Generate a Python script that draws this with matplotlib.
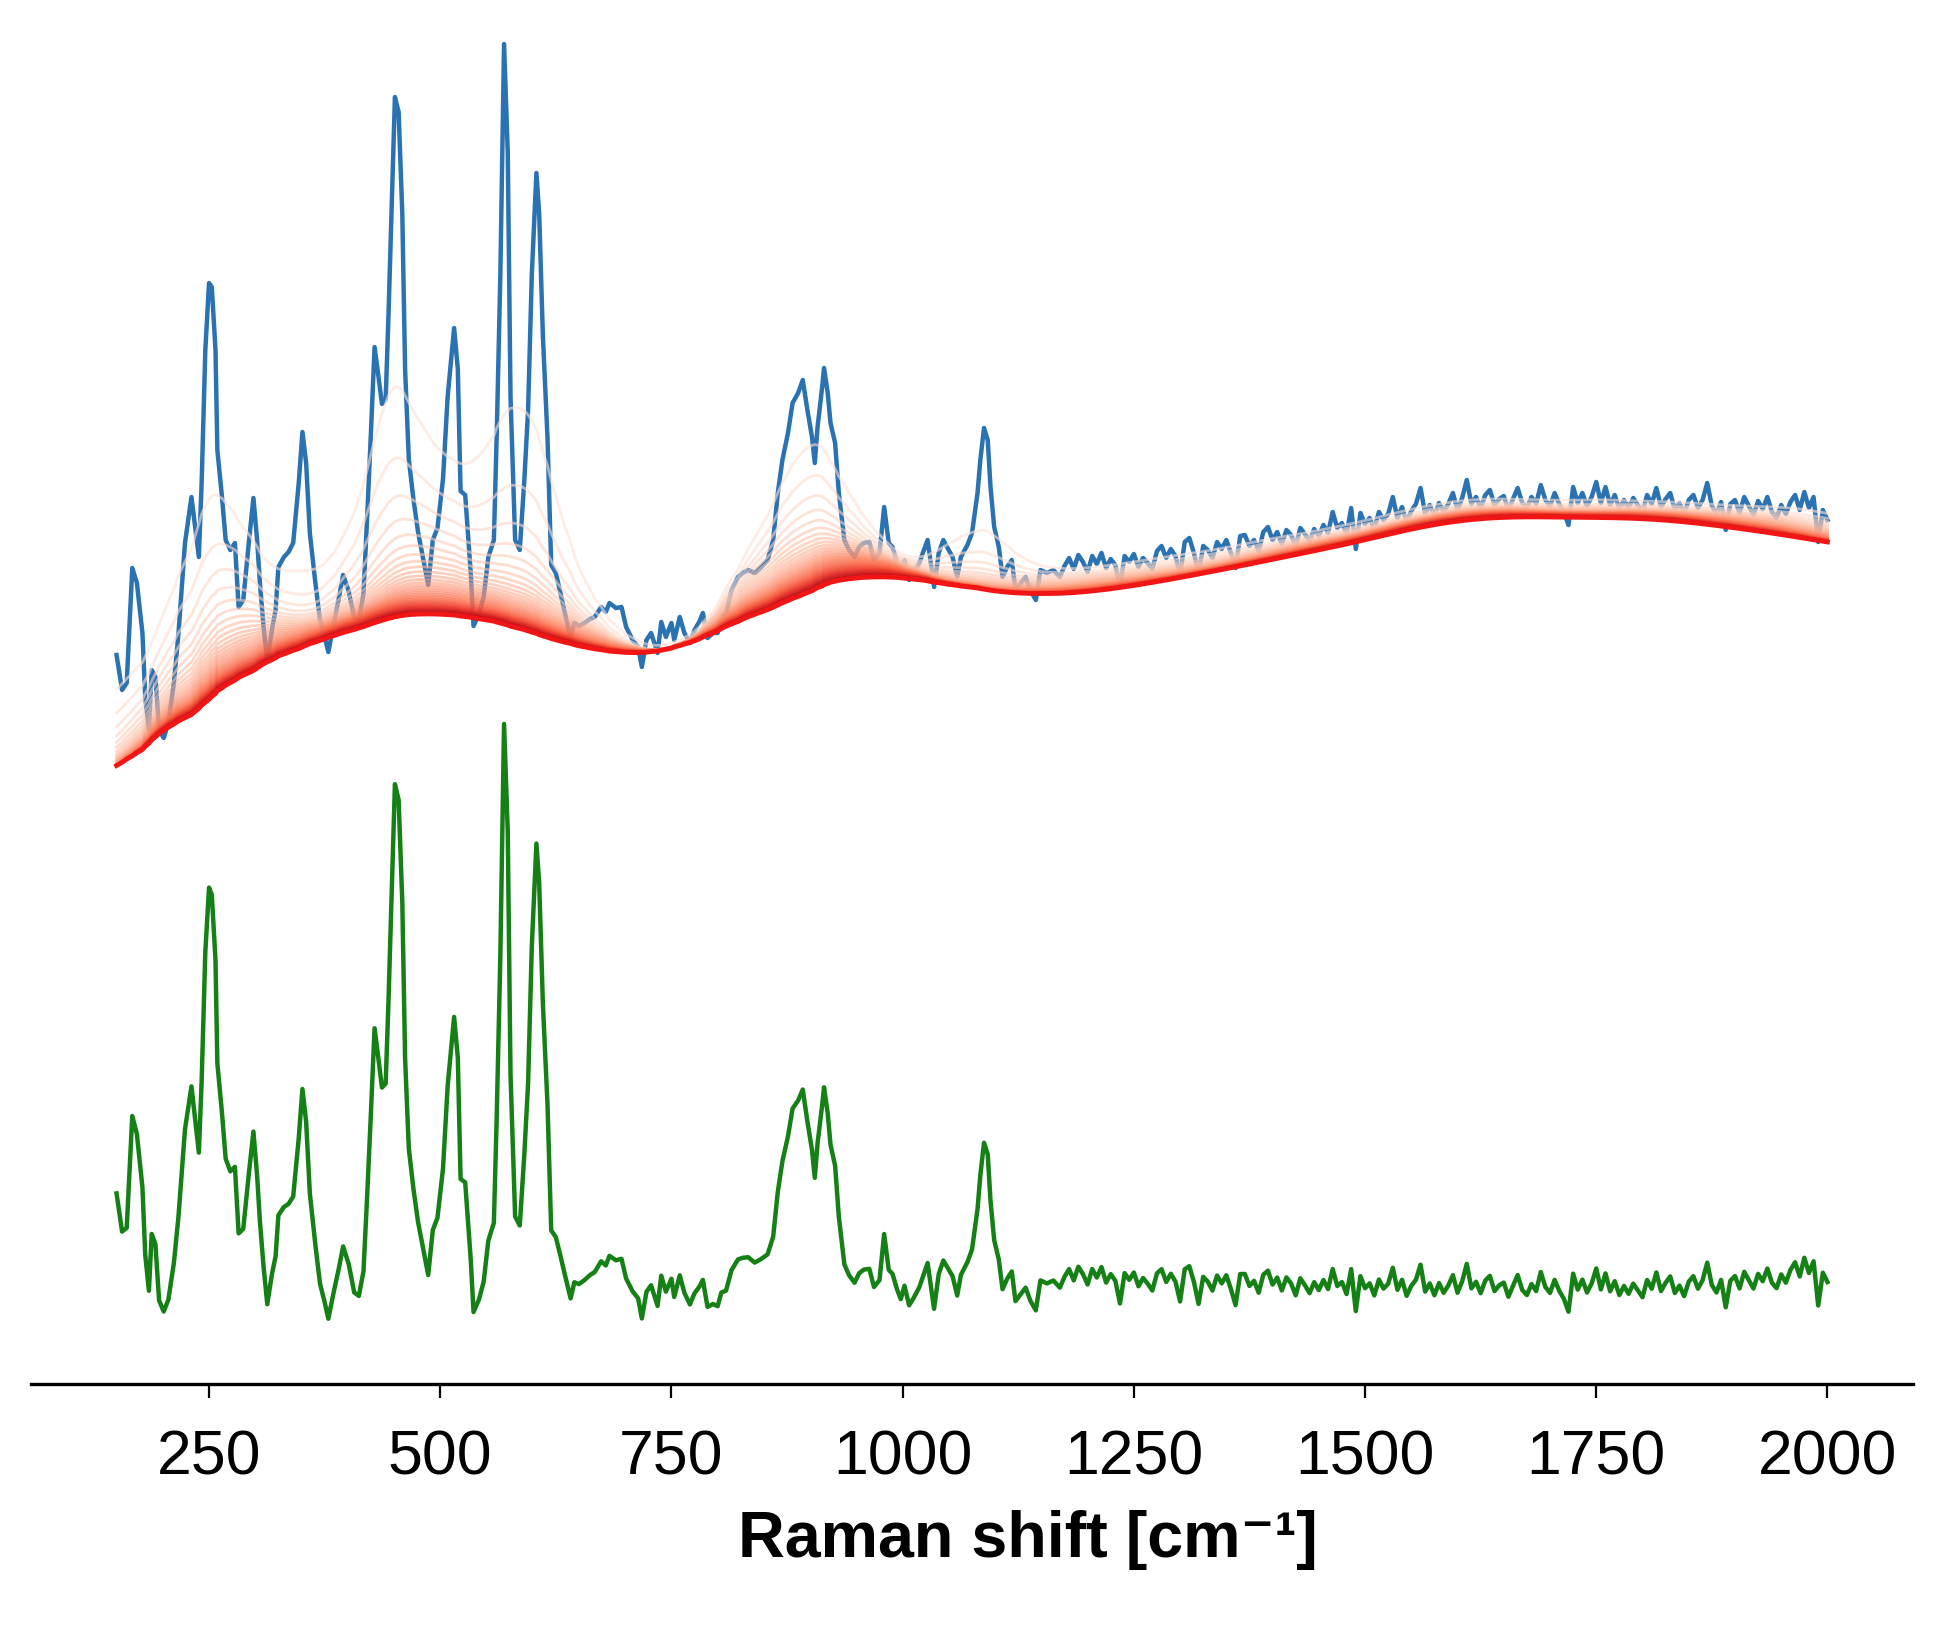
#!/usr/bin/env python3
"""Raman spectrum with iterative smoothing baseline and corrected spectrum"""
import numpy as np
import matplotlib
matplotlib.use('Agg')
import matplotlib.pyplot as plt

plt.rcParams['font.family'] = ['Liberation Sans', 'DejaVu Sans']

# === RAW SPECTRUM (a.u.) ===
shift = np.array([
    150, 156, 161, 167, 172, 178, 181, 185, 188, 192,
    196, 201, 206, 212, 217, 224, 231, 235, 239, 242,
    246, 250, 253, 257, 259, 264, 268, 273, 278, 282,
    287, 293, 298, 302, 305, 309, 313, 318, 322, 325,
    331, 336, 341, 347, 351, 355, 359, 365, 370, 375,
    379, 385, 390, 395, 401, 407, 412, 417, 421, 425,
    429, 433, 437, 441, 444, 448, 451, 455, 459, 462,
    466, 471, 476, 482, 487, 492, 497, 503, 508, 515,
    519, 522, 527, 533, 536, 542, 547, 552, 558, 561,
    565, 569, 573, 576, 581, 586, 591, 595, 599, 604,
    607, 611, 616, 620, 625, 630, 635, 641, 645, 650,
    656, 662, 667, 674, 679, 683, 690, 696, 701, 708,
    714, 718, 723, 728, 735, 739, 744, 750, 753, 759,
    764, 770, 775, 780, 784, 789, 795, 800, 804, 809,
    815, 822, 827, 833, 840, 847, 854, 860, 865, 870,
    876, 881, 887, 892, 897, 902, 905, 908, 913, 915,
    919, 922, 927, 931, 937, 942, 948, 953, 958, 964,
    969, 975, 980, 985, 989, 994, 998, 1002, 1007, 1012,
    1018, 1023, 1027, 1030, 1034, 1039, 1044, 1048, 1054, 1059,
    1063, 1070, 1075, 1081, 1084, 1088, 1092, 1095, 1099, 1104,
    1108, 1113, 1118, 1122, 1128, 1133, 1138, 1144, 1149, 1156,
    1163, 1170,
    1175, 1180, 1185, 1190, 1195, 1200, 1205, 1210, 1215, 1220,
    1225, 1230, 1235, 1240, 1245, 1250, 1255, 1260, 1265, 1270,
    1275, 1280, 1285, 1290, 1295, 1300, 1305, 1310, 1315, 1320,
    1325, 1330, 1335, 1340, 1345, 1350, 1355, 1360, 1365, 1370,
    1375, 1380, 1385, 1390, 1395, 1400, 1405, 1410, 1415, 1420,
    1425, 1430, 1435, 1440, 1445, 1450, 1455, 1460, 1465, 1470,
    1475, 1480, 1485, 1490, 1495, 1500, 1505, 1510, 1515, 1520,
    1525, 1530, 1535, 1540, 1545, 1550, 1555, 1560, 1565, 1570,
    1575, 1580, 1585, 1590, 1595, 1600, 1605, 1610, 1615, 1620,
    1625, 1630, 1635, 1640, 1645, 1650, 1655, 1660, 1665, 1670,
    1675, 1680, 1685, 1690, 1695, 1700, 1705, 1710, 1715, 1720,
    1725, 1730, 1735, 1740, 1745, 1750, 1755, 1760, 1765, 1770,
    1775, 1780, 1785, 1790, 1795, 1800, 1805, 1810, 1815, 1820,
    1825, 1830, 1835, 1840, 1845, 1850, 1855, 1860, 1865, 1870,
    1875, 1880, 1885, 1890, 1895, 1900, 1905, 1910, 1915, 1920,
    1925, 1930, 1935, 1940, 1945, 1950, 1955, 1960, 1965, 1970,
    1975, 1980, 1985, 1990, 1995, 2000,
], dtype=float)

raw = np.array([
    729, 694, 701, 816, 801, 751, 687, 654, 714, 707,
    654, 646, 661, 701, 751, 841, 887, 857, 827, 901,
    1034, 1101, 1097, 1034, 934, 887, 844, 834, 841, 777,
    784, 841, 886, 844, 801, 757, 722, 754, 774, 817,
    827, 832, 841, 901, 952, 921, 851, 801, 764, 747,
    732, 761, 784, 809, 793, 766, 764, 790, 867, 950,
    1037, 1009, 980, 985, 1067, 1191, 1287, 1272, 1170, 1015,
    925, 885, 852, 823, 799, 844, 856, 905, 987, 1056,
    1015, 893, 889, 811, 758, 770, 787, 827, 844, 946,
    1109, 1340, 1232, 987, 844, 834, 905, 974, 1109, 1211,
    1170, 1048, 946, 819, 811, 791, 770, 746, 761, 758,
    761, 765, 767, 777, 772, 781, 776, 777, 757, 744,
    737, 717, 744, 751, 731, 762, 747, 761, 744, 767,
    751, 741, 754, 762, 771, 746, 751, 751, 767, 771,
    794, 807, 811, 814, 811, 817, 824, 844, 891, 924,
    951, 981, 991, 1004, 974, 947, 921, 957, 997, 1016,
    991, 961, 941, 891, 844, 834, 827, 837, 841, 842,
    824, 831, 877, 841, 837, 821, 811, 824, 804, 811,
    821, 834, 844, 824, 797, 831, 844, 837, 827, 807,
    827, 839, 851, 891, 924, 956, 944, 897, 857, 837,
    807, 817, 824, 794, 801, 807, 794, 784, 814, 811,
    814, 807,
    818, 826, 815, 829, 822, 812, 828, 820, 831, 816,
    825, 819, 797, 828, 822, 830, 817, 826, 821, 815,
    833, 838, 826, 835, 828, 809, 842, 846, 831, 810,
    838, 834, 826, 842, 835, 844, 831, 816, 848, 849,
    838, 844, 833, 852, 857, 844, 852, 840, 854, 849,
    838, 856, 850, 843, 855, 848, 859, 851, 872, 856,
    861, 850, 876, 835, 871, 860, 866, 855, 872, 864,
    870, 887, 866, 877, 862, 873, 880, 896, 870, 879,
    868, 881, 872, 880, 891, 874, 886, 904, 880, 887,
    876, 889, 894, 879, 885, 888, 874, 885, 896, 881,
    876, 887, 880, 899, 884, 878, 891, 880, 872, 859,
    897, 881, 891, 878, 887, 902, 881, 897, 879, 889,
    875, 884, 876, 886, 879, 872, 889, 880, 896, 877,
    885, 891, 874, 881, 870, 884, 889, 876, 884, 901,
    878, 870, 882, 854, 880, 884, 871, 887, 878, 869,
    883, 875, 887, 872, 866, 879, 870, 882, 889, 874,
    892, 876, 887, 842, 874, 864,
], dtype=float)

xticks = [250, 500, 750, 1000, 1250, 1500, 1750, 2000]
smooth_lambda = 1000.0   # Whittaker smoother stiffness
n_iter = 40
green_offset = 80        # vertical offset of the corrected spectrum


# === ITERATIVE SMOOTHING BASELINE ===
def whittaker_baseline(y, lam, n):
    m = len(y)
    d2 = np.diff(np.eye(m), 2, axis=0)
    smoother = np.linalg.inv(np.eye(m) + lam * d2.T @ d2)
    cur = y.copy()
    fits = []
    for _ in range(n):
        z = smoother @ cur
        fits.append(z)
        cur = np.minimum(cur, z)
    return fits[-1], fits


baseline, fits = whittaker_baseline(raw, smooth_lambda, n_iter)
corrected = raw - baseline

# === PLOT ===
fig = plt.figure(figsize=(19.41, 16.25), dpi=100)
ax = fig.add_axes([31 / 1941, 241 / 1625, 1882 / 1941, 1384 / 1625])

ax.plot(shift, raw, color='#2a72b2', lw=3.2, zorder=2)
cmap = plt.cm.Reds
for k, z in enumerate(fits[:-1]):
    ax.plot(shift, z, color=cmap(0.12 + 0.75 * k / n_iter), lw=2.0, alpha=0.6, zorder=3)
ax.plot(shift, baseline, color='#f21515', lw=3.4, zorder=4)
ax.plot(shift, corrected + green_offset, color='#158015', lw=3.2, zorder=2)

ax.set_ylim(0, 1384)
for side in ['left', 'right', 'top']:
    ax.spines[side].set_visible(False)
ax.spines['bottom'].set_linewidth(2.4)
ax.set_yticks([])
ax.set_xticks(xticks)
ax.tick_params(axis='x', direction='out', length=10, width=1.6, pad=22, labelsize=45)
ax.set_xlabel('Raman shift [cm\u207b\u00b9]', fontsize=46.5, fontweight='bold')
ax.xaxis.set_label_coords(0.5295, -0.091)

fig.savefig('out.png', dpi=100)
